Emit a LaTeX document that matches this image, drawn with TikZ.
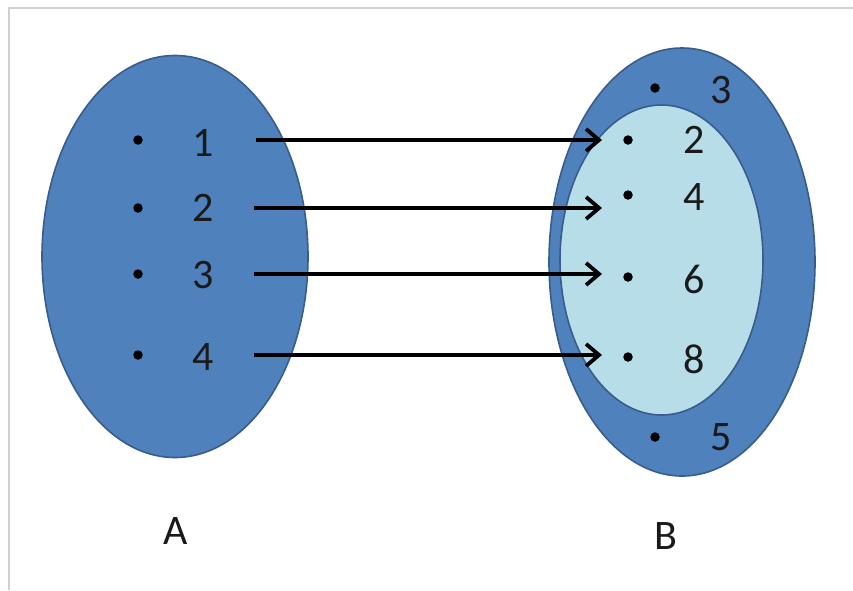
\documentclass[tikz,border=0pt]{standalone}
\usepackage{fontspec}
\setmainfont{Carlito}
\usetikzlibrary{shapes.geometric,arrows.meta}
\definecolor{outerblue}{HTML}{4F81BD}
\definecolor{edgeblue}{HTML}{385D8A}
\definecolor{innerblue}{HTML}{B7DEE8}
\definecolor{framegray}{HTML}{D0D0D0}
\definecolor{textdark}{HTML}{1A1A1A}
\tikzset{
  setshape/.style={ellipse, draw=edgeblue, line width=1.6pt, inner sep=0pt},
  elem/.style={circle, fill=black, inner sep=0pt, minimum size=9.5pt},
  lbl/.style={inner sep=0pt, font=\fontsize{42}{42}\selectfont, text=textdark},
  arr/.style={line width=3.8pt, -{Straight Barb[length=13pt, width=22pt, line width=3.8pt]}},
}
\begin{document}
\begin{tikzpicture}[x=1pt, y=-1pt]
\useasboundingbox (0,0) rectangle (853,590);
\fill[white] (0,0) rectangle (853,590);
\draw[framegray, line width=2.5pt] (9,590) coordinate (f1) -- (9,8) coordinate (f2) -- (853,8) coordinate (f3);
% sets
\node[setshape, fill=outerblue, minimum width=266pt, minimum height=402pt] (A) at (175,256.5) {};
\node[setshape, fill=outerblue, minimum width=266pt, minimum height=428pt] (B) at (682,262) {};
\node[setshape, fill=innerblue, minimum width=203pt, minimum height=310pt] (C) at (661.5,260) {};
% elements of A
\node[elem] (ad1) at (138,140) {};
\node[elem] (ad2) at (138,208) {};
\node[elem] (ad3) at (138,274) {};
\node[elem] (ad4) at (138,355) {};
\node[lbl] (al1) at (203,143) {1};
\node[lbl] (al2) at (203,208) {2};
\node[lbl] (al3) at (203,275) {3};
\node[lbl] (al4) at (203,357) {4};
% elements of B
\node[elem] (bd3) at (655,88) {};
\node[elem] (bd2) at (628,140) {};
\node[elem] (bd4) at (628,195) {};
\node[elem] (bd6) at (628,277) {};
\node[elem] (bd8) at (628,357) {};
\node[elem] (bd5) at (655,437) {};
\node[lbl] (bl3) at (721,90) {3};
\node[lbl] (bl2) at (694,140) {2};
\node[lbl] (bl4) at (694,197) {4};
\node[lbl] (bl6) at (694,279) {6};
\node[lbl] (bl8) at (694,359) {8};
\node[lbl] (bl5) at (721,437) {5};
% arrows
\draw[arr, shorten <=113pt, shorten >=26pt] (ad1) -- (ad1 -| bd2);
\draw[arr, shorten <=111pt, shorten >=26pt] (ad2) -- (ad2 -| bd4);
\draw[arr, shorten <=111pt, shorten >=26pt] (ad3) -- (ad3 -| bd6);
\draw[arr, shorten <=111pt, shorten >=26pt] (ad4) -- (ad4 -| bd8);
% set names
\node[lbl] (nA) at (176,531) {A};
\node[lbl] (nB) at (666,536) {B};
\end{tikzpicture}
\end{document}
